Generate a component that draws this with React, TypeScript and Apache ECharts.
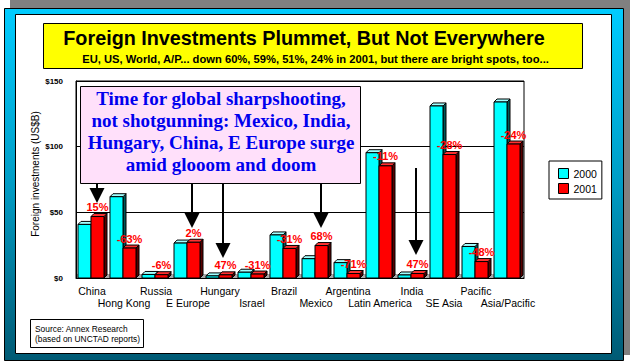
import React, { useEffect, useRef } from "react";
import * as echarts from "echarts";

const categories = [
  "China", "Hong Kong", "Russia", "E Europe", "Hungary", "Israel", "Brazil",
  "Mexico", "Argentina", "Latin America", "India", "SE Asia", "Pacific", "Asia/Pacific",
];
const fdi2000 = [40.8, 61.9, 2.7, 26.6, 1.6, 4.4, 32.8, 14.7, 11.7, 95.4, 2.3, 131, 24, 134];
const fdi2001 = [46.8, 22.8, 2.5, 27.2, 2.4, 3.0, 22.5, 24.7, 3.4, 85.4, 3.4, 94, 12.5, 102];
const changePct = [15, -63, -6, 2, 47, -31, -31, 68, -71, -11, 47, -28, -48, -24];
const yTicks = [0, 50, 100, 150];

const titleText = "Foreign Investments Plummet, But Not Everywhere";
const subtitleText =
  "EU, US, World, A/P... down 60%, 59%, 51%, 24% in 2001, but there are bright spots, too...";
const calloutLines = [
  "Time for global sharpshooting,",
  "not shotgunning: Mexico, India,",
  "Hungary, China, E Europe surge",
  "amid glooom and doom",
];
const sourceLines = ["Source: Annex Research", "(based on UNCTAD reports)"];

// arrows: [x, yStart, yTip]
const arrows: [number, number, number][] = [
  [97, 183, 203],
  [192, 183, 228],
  [223, 183, 258],
  [321, 183, 228],
  [416, 168, 255],
];

const SANS = '"Liberation Sans", Arial, sans-serif';
const SERIF = '"Liberation Serif", "Times New Roman", serif';

function makeRender(which: number) {
  return (_params: any, api: any) => {
    const i = api.value(0);
    const v = api.value(1);
    const base = api.coord([i, 0]);
    const topP = api.coord([i, v]);
    const c = base[0];
    const w = 13;
    const d = 3;
    const x0 = which === 0 ? c - 14 : c - 1;
    const yb = base[1];
    const yt = topP[1];
    const front = which === 0 ? "#00FFFF" : "#FF0000";
    const topC = which === 0 ? "#A0FFFF" : "#FF3030";
    const side = which === 0 ? "#005858" : "#580000";
    const children: any[] = [
      {
        type: "polygon",
        shape: { points: [[x0 + w, yt], [x0 + w + d, yt - d], [x0 + w + d, yb - d], [x0 + w, yb]] },
        style: { fill: side, stroke: "#000", lineWidth: 1 },
      },
      {
        type: "polygon",
        shape: { points: [[x0, yt], [x0 + d, yt - d], [x0 + w + d, yt - d], [x0 + w, yt]] },
        style: { fill: topC, stroke: "#000", lineWidth: 1 },
      },
      {
        type: "rect",
        shape: { x: x0, y: yt, width: w, height: yb - yt },
        style: { fill: front, stroke: "#000", lineWidth: 1 },
      },
    ];
    if (which === 1) {
      children.push({
        type: "text",
        x: x0 + w / 2,
        y: yt - 4,
        style: {
          text: changePct[i] + "%",
          fill: "#FF0000",
          font: "bold 11px " + SANS,
          align: "center",
          verticalAlign: "bottom",
        },
      });
    }
    return { type: "group", children };
  };
}

export default function App() {
  const ref = useRef<HTMLDivElement>(null);
  useEffect(() => {
    if (!ref.current) return;
    const chart = echarts.init(ref.current, null, { renderer: "svg" });

    const graphics: any[] = [
      { type: "rect", z: -10, shape: { x: 10, y: 0, width: 620, height: 355 }, style: { fill: "#808080" } },
      {
        type: "rect",
        z: -9,
        shape: { x: 4.5, y: 8.5, width: 619, height: 352 },
        style: {
          fill: {
            type: "linear", x: 0, y: 0, x2: 0, y2: 1,
            colorStops: [
              { offset: 0, color: "#00CCFF" },
              { offset: 0.5, color: "#009CC4" },
              { offset: 1, color: "#005A74" },
            ],
          },
          stroke: "#000",
          lineWidth: 1,
        },
      },
      { type: "rect", z: -8, shape: { x: 15.5, y: 14.5, width: 596, height: 339 }, style: { fill: "#FFFFFF", stroke: "#000", lineWidth: 1 } },
      // title box
      { type: "rect", z: 5, shape: { x: 43.5, y: 23.5, width: 539, height: 45 }, style: { fill: "#FFFF00", stroke: "#000", lineWidth: 1 } },
      {
        type: "text", z: 6, x: 304, y: 38,
        style: { text: titleText, font: "bold 19.8px " + SANS, fill: "#000", align: "center", verticalAlign: "middle" },
      },
      {
        type: "text", z: 6, x: 315.5, y: 59,
        style: { text: subtitleText, font: "bold 11.2px " + SANS, fill: "#000", align: "center", verticalAlign: "middle" },
      },
      // y axis name
      {
        type: "text", z: 6, x: 35, y: 174, rotation: Math.PI / 2,
        style: { text: "Foreign investments (US$B)", font: "10px " + SANS, fill: "#000", align: "center", verticalAlign: "middle" },
      },
      // floor
      { type: "rect", z: 1, shape: { x: 77, y: 274, width: 446, height: 4 }, style: { fill: "#A8A8A8" } },
      // callout
      { type: "rect", z: 10, shape: { x: 80.5, y: 86.5, width: 280, height: 97 }, style: { fill: "#FFE0FA", stroke: "#000", lineWidth: 1 } },
      {
        type: "text", z: 11, x: 221, y: 87,
        style: {
          text: calloutLines.join("\n"), font: "bold 19px " + SERIF, fill: "#0000EE",
          align: "center", verticalAlign: "top", lineHeight: 22,
        },
      },
      // source box
      { type: "rect", z: 5, shape: { x: 30.5, y: 319.5, width: 113, height: 28 }, style: { fill: "#FFFFFF", stroke: "#000", lineWidth: 1 } },
      {
        type: "text", z: 6, x: 35, y: 324,
        style: { text: sourceLines.join("\n"), font: "8.4px " + SANS, fill: "#000", align: "left", verticalAlign: "top", lineHeight: 10 },
      },
    ];
    arrows.forEach(([x, y0, yTip]) => {
      graphics.push({
        type: "line", z: 10,
        shape: { x1: x, y1: y0, x2: x, y2: yTip - 8 },
        style: { stroke: "#000", lineWidth: 2 },
      });
      graphics.push({
        type: "polygon", z: 10,
        shape: { points: [[x - 7.5, yTip - 15], [x + 7.5, yTip - 15], [x, yTip]] },
        style: { fill: "#000" },
      });
    });

    chart.setOption({
      animation: false,
      backgroundColor: "transparent",
      grid: {
        left: 76, top: 81, width: 448, height: 197,
        show: true, borderColor: "#000", borderWidth: 1, backgroundColor: "transparent",
      },
      legend: {
        left: 549, top: 161, orient: "vertical",
        padding: [7, 5, 5, 9], itemWidth: 10, itemHeight: 10, itemGap: 4,
        borderColor: "#000", borderWidth: 1, backgroundColor: "#FFFFFF",
        textStyle: { fontFamily: SANS, fontSize: 10.5, color: "#000" },
        data: [
          { name: "2000", icon: "rect", itemStyle: { color: "#00FFFF", borderColor: "#000", borderWidth: 1 } },
          { name: "2001", icon: "rect", itemStyle: { color: "#FF0000", borderColor: "#000", borderWidth: 1 } },
        ],
      },
      xAxis: {
        type: "category",
        data: categories,
        axisLine: { show: true, lineStyle: { color: "#000" } },
        axisTick: { show: false },
        axisLabel: {
          interval: 0, margin: 7, fontFamily: SANS, fontSize: 10.5, color: "#000", lineHeight: 12,
          formatter: (v: string, i: number) => (i % 2 ? "\n" + v : v),
        },
      },
      yAxis: {
        type: "value",
        min: yTicks[0], max: yTicks[yTicks.length - 1], interval: 50,
        axisLine: { show: true, lineStyle: { color: "#000" } },
        axisTick: { show: true, inside: true, length: 4, lineStyle: { color: "#000" } },
        splitLine: { show: true, lineStyle: { color: "#000", width: 1 } },
        axisLabel: {
          margin: 13, fontFamily: SANS, fontSize: 8, fontWeight: "bold", color: "#000",
          formatter: (v: number) => "$" + v,
        },
      },
      series: [
        {
          name: "2000", type: "custom", z: 2,
          itemStyle: { color: "#00FFFF" },
          renderItem: makeRender(0),
          encode: { x: 0, y: 1 },
          data: categories.map((_, i) => [i, fdi2000[i]]),
        },
        {
          name: "2001", type: "custom", z: 3,
          itemStyle: { color: "#FF0000" },
          renderItem: makeRender(1),
          encode: { x: 0, y: 1 },
          data: categories.map((_, i) => [i, fdi2001[i]]),
        },
      ],
      graphic: { elements: graphics },
    });
    return () => chart.dispose();
  }, []);
  return <div ref={ref} style={{ position: "absolute", left: 0, top: 0, width: 630, height: 364 }} />;
}
